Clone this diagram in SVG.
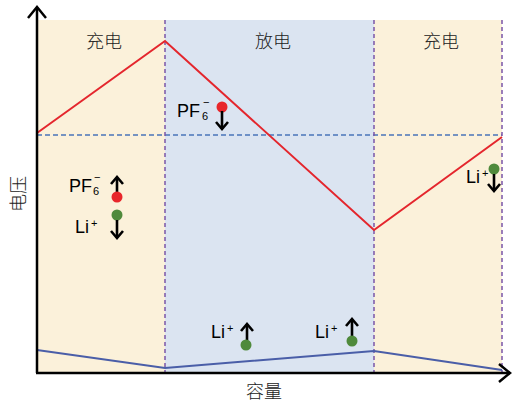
<svg xmlns="http://www.w3.org/2000/svg" width="513" height="403" viewBox="0 0 513 403">
<style>
.bg-charge{fill:#fbf1da}
.bg-dis{fill:#dbe4f1}
.vdash{stroke:#7b55a8;stroke-width:1.5;stroke-dasharray:4,3;fill:none}
.hdash{stroke:#4a74b9;stroke-width:1.5;stroke-dasharray:5,3;fill:none}
.red{stroke:#e4262d;stroke-width:2;fill:none}
.blue{stroke:#4a5ea8;stroke-width:2;fill:none}
.axis{stroke:#000;stroke-width:2.5;fill:none}
.arr{stroke:#000;stroke-width:2.6;fill:none;stroke-linecap:butt}
.cn{font-family:"Noto Sans CJK SC","Noto Sans CJK JP",sans-serif;font-size:18px;font-weight:300;fill:#222}
.lbl{font-family:"Liberation Sans",Arial,sans-serif;font-size:18px;fill:#000}
.sub{font-family:"Liberation Sans",Arial,sans-serif;font-size:11px;fill:#000}
.rdot{fill:#e8262b}
.gdot{fill:#4f8a3c}
</style>
<g id="background">
<rect class="bg-charge" x="37" y="20" width="128" height="352"/>
<rect class="bg-dis" x="165" y="20" width="209" height="352"/>
<rect class="bg-charge" x="374" y="20" width="128" height="352"/>
</g>
<g id="connectors">
<line class="hdash" x1="37" y1="135" x2="502" y2="135"/>
<line class="vdash" x1="165" y1="20" x2="165" y2="372"/>
<line class="vdash" x1="374" y1="20" x2="374" y2="372"/>
<line class="vdash" x1="502" y1="20" x2="502" y2="372"/>
<polyline class="red" points="37,133 165,41 374,230 502,137"/>
<polyline class="blue" points="37,350 165,368 374,351 502,370"/>
</g>
<g id="axes">
<line class="axis" x1="37" y1="8" x2="37" y2="373"/>
<polyline class="axis" points="28,18 37,7 46,18"/>
<line class="axis" x1="36" y1="373" x2="510" y2="373"/>
<polyline class="axis" points="499,364 510,373 499,382"/>
<text class="cn" x="264" y="398" text-anchor="middle">容量</text>
<text class="cn" transform="translate(25,194) rotate(-90)" text-anchor="middle">电压</text>
</g>
<g id="labels">
<text class="cn" x="104" y="48" text-anchor="middle">充电</text>
<text class="cn" x="273" y="48" text-anchor="middle">放电</text>
<text class="cn" x="441" y="48" text-anchor="middle">充电</text>
</g>
<g id="ions-left">
<text class="lbl" x="69" y="192">PF</text>
<text class="sub" x="93" y="195">6</text>
<text class="sub" x="94" y="181">−</text>
<line class="arr" x1="117" y1="178" x2="117" y2="193"/>
<polyline class="arr" points="111,184 117,177 123,184"/>
<circle class="rdot" cx="117" cy="197" r="5.5"/>
<circle class="gdot" cx="117" cy="215" r="5.5"/>
<line class="arr" x1="117" y1="220" x2="117" y2="238"/>
<polyline class="arr" points="111,231 117,238 123,231"/>
<text class="lbl" x="75" y="233">Li</text>
<text class="sub" x="91" y="227">+</text>
</g>
<g id="ions-discharge-top">
<text class="lbl" x="177" y="117">PF</text>
<text class="sub" x="202" y="120">6</text>
<text class="sub" x="203" y="106">−</text>
<circle class="rdot" cx="222" cy="107" r="5.5"/>
<line class="arr" x1="222" y1="111" x2="222" y2="129"/>
<polyline class="arr" points="216,122 222,129 228,122"/>
</g>
<g id="ions-discharge-bottom">
<text class="lbl" x="211" y="338">Li</text>
<text class="sub" x="227" y="332">+</text>
<line class="arr" x1="247" y1="324" x2="247" y2="341"/>
<polyline class="arr" points="241,331 247,324 253,331"/>
<circle class="gdot" cx="246" cy="345" r="5.5"/>
<text class="lbl" x="315" y="338">Li</text>
<text class="sub" x="331" y="332">+</text>
<line class="arr" x1="352" y1="319" x2="352" y2="336"/>
<polyline class="arr" points="346,326 352,319 358,326"/>
<circle class="gdot" cx="352" cy="341" r="5.5"/>
</g>
<g id="ions-right">
<text class="lbl" x="466" y="183">Li</text>
<text class="sub" x="482" y="177">+</text>
<circle class="gdot" cx="494" cy="169" r="5.5"/>
<line class="arr" x1="494" y1="174" x2="494" y2="191"/>
<polyline class="arr" points="488,184 494,191 500,184"/>
</g>
</svg>
